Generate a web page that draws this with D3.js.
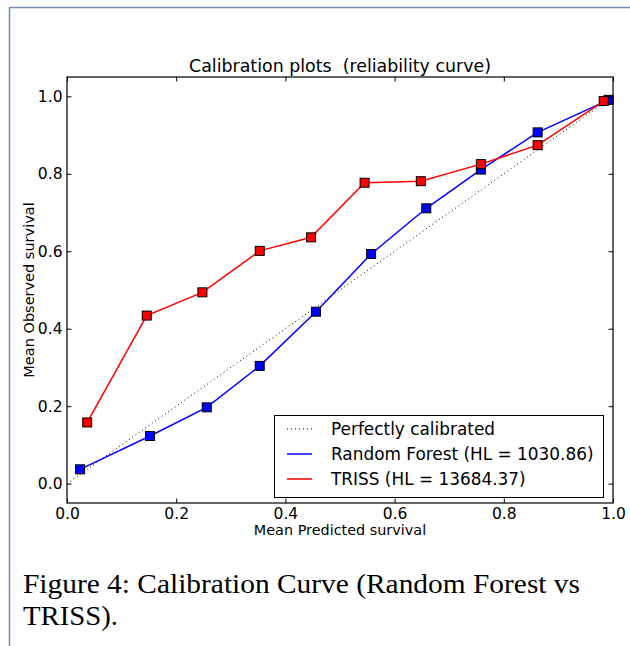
<!DOCTYPE html>
<html><head><meta charset="utf-8">
<script src="https://cdn.jsdelivr.net/npm/d3@7"></script>
<style>body{margin:0;background:#fff}svg{display:block}text{white-space:pre}</style>
</head><body>
<svg id="c" width="630" height="646"></svg>
<script>
const rfX = [0.024, 0.152, 0.256, 0.353, 0.456, 0.557, 0.658, 0.758, 0.862, 0.992];
const rfY = [0.037, 0.123, 0.197, 0.304, 0.444, 0.593, 0.711, 0.811, 0.907, 0.991];
const trX = [0.037, 0.146, 0.248, 0.353, 0.447, 0.545, 0.648, 0.758, 0.862, 0.983];
const trY = [0.158, 0.434, 0.494, 0.601, 0.636, 0.777, 0.781, 0.825, 0.874, 0.988];
const ticks = [0.0, 0.2, 0.4, 0.6, 0.8, 1.0];
const legendLabels = ["Perfectly calibrated", "Random Forest (HL = 1030.86)", "TRISS (HL = 13684.37)"];

const svg = d3.select("#c");
const L = 67, R = 613, T = 77, B = 503;
const x = d3.scaleLinear().domain([0, 1]).range([L, R]);
const y = d3.scaleLinear().domain([-0.05, 1.05]).range([B, T]);
const font = "DejaVu Sans, sans-serif";

// page border
svg.append("path").attr("d", "M9.5,646 L9.5,7.5 L630,7.5")
  .attr("fill", "none").attr("stroke", "#7690b4").attr("stroke-width", 1.6);

// diagonal
svg.append("path").attr("d", d3.line()([[x(0), y(0)], [x(1), y(1)]]))
  .attr("stroke", "#000").attr("stroke-width", 1).attr("stroke-dasharray", "1,3").attr("fill", "none");

function series(xs, ys, color) {
  const pts = xs.map((v, i) => [x(v), y(ys[i])]);
  svg.append("path").attr("d", d3.line()(pts)).attr("fill", "none")
    .attr("stroke", color).attr("stroke-width", 1.5);
  svg.append("g").selectAll("rect").data(pts).join("rect")
    .attr("x", d => d[0] - 4.5).attr("y", d => d[1] - 4.5)
    .attr("width", 9).attr("height", 9)
    .attr("fill", color).attr("stroke", "#000").attr("stroke-width", 1);
}
series(rfX, rfY, "#0000ff");
series(trX, trY, "#ff0000");

// axes frame
svg.append("rect").attr("x", L).attr("y", T).attr("width", R - L).attr("height", B - T)
  .attr("fill", "none").attr("stroke", "#000").attr("stroke-width", 1.2);

// ticks inward
const tl = 4.5;
const axB = d3.axisBottom(x).tickValues(ticks).tickFormat(d3.format(".1f")).tickSizeInner(-tl).tickSizeOuter(0).tickPadding(5);
const axT = d3.axisTop(x).tickValues(ticks).tickFormat("").tickSizeInner(-tl).tickSizeOuter(0);
const axL = d3.axisLeft(y).tickValues(ticks).tickFormat(d3.format(".1f")).tickSizeInner(-tl).tickSizeOuter(0).tickPadding(4.5);
const axR = d3.axisRight(y).tickValues(ticks).tickFormat("").tickSizeInner(-tl).tickSizeOuter(0);
function styleAx(g) {
  g.select(".domain").remove();
  g.selectAll("line").attr("stroke", "#000").attr("stroke-width", 1);
  g.selectAll("text").attr("font-family", font).attr("font-size", 15.5).attr("fill", "#000");
}
svg.append("g").attr("transform", `translate(0,${B})`).call(axB).call(styleAx);
svg.append("g").attr("transform", `translate(0,${T})`).call(axT).call(styleAx);
svg.append("g").attr("transform", `translate(${L},0)`).call(axL).call(styleAx);
svg.append("g").attr("transform", `translate(${R},0)`).call(axR).call(styleAx);

// title and labels
svg.append("text").attr("x", (L + R) / 2).attr("y", 72).attr("text-anchor", "middle")
  .attr("font-family", font).attr("font-size", 17.4).text("Calibration plots  (reliability curve)");
svg.append("text").attr("x", (L + R) / 2).attr("y", 535).attr("text-anchor", "middle")
  .attr("font-family", font).attr("font-size", 14.4).text("Mean Predicted survival");
svg.append("text").attr("transform", `translate(34,290) rotate(-90)`).attr("text-anchor", "middle")
  .attr("font-family", font).attr("font-size", 14.5).text("Mean Observed survival");

// legend
const lg = svg.append("g");
lg.append("rect").attr("x", 274.5).attr("y", 415.5).attr("width", 329).attr("height", 82)
  .attr("fill", "#fff").attr("stroke", "#000").attr("stroke-width", 1);
const styles = [{c: "#000", d: "1,3", w: 1}, {c: "#0000ff", d: null, w: 1.5}, {c: "#ff0000", d: null, w: 1.5}];
legendLabels.forEach((t, i) => {
  const cy = 429 + i * 25;
  lg.append("line").attr("x1", 287).attr("x2", 312).attr("y1", cy).attr("y2", cy)
    .attr("stroke", styles[i].c).attr("stroke-width", styles[i].w).attr("stroke-dasharray", styles[i].d);
  lg.append("text").attr("x", 331).attr("y", cy).attr("dy", "0.36em")
    .attr("font-family", font).attr("font-size", 16.9).text(t);
});

// caption
const cap = svg.append("g").attr("font-family", "Liberation Serif, serif").attr("font-size", 27).attr("fill", "#000");
cap.append("text").attr("x", 23).attr("y", 593).attr("textLength", 557).attr("lengthAdjust", "spacingAndGlyphs")
  .text("Figure 4: Calibration Curve (Random Forest vs");
cap.append("text").attr("x", 23).attr("y", 625).attr("textLength", 95).attr("lengthAdjust", "spacingAndGlyphs")
  .text("TRISS).");
</script>
</body></html>
